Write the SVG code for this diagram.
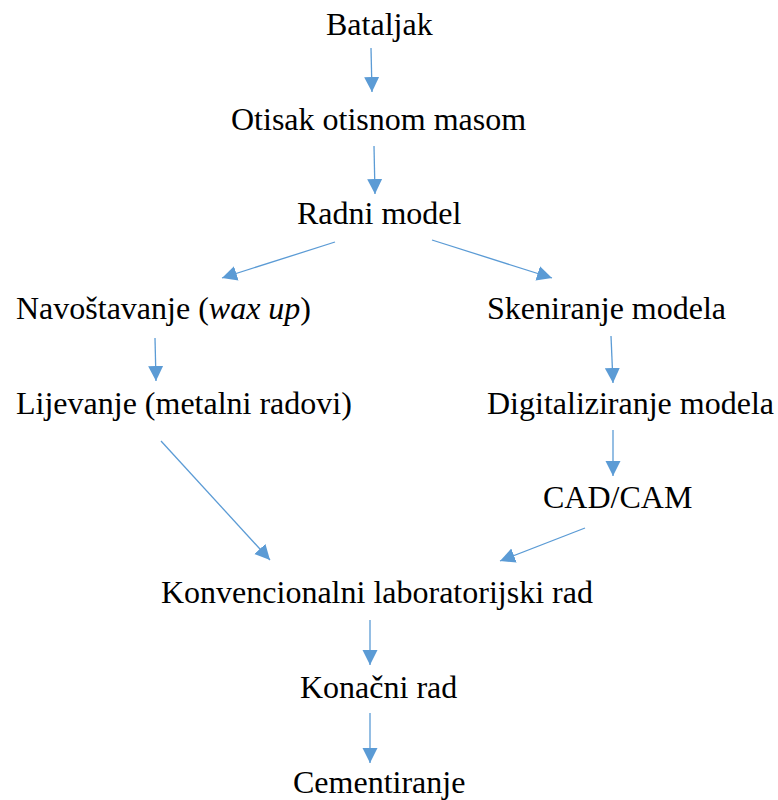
<svg xmlns="http://www.w3.org/2000/svg" width="778" height="800" viewBox="0 0 778 800">
<style>
text{font-family:"Liberation Serif","Times New Roman",serif;font-size:32px;fill:#000}
.c{stroke:#5B9BD5;stroke-width:1.3;fill:none;marker-end:url(#ah)}
</style>
<defs>
<marker id="ah" markerUnits="userSpaceOnUse" markerWidth="16" markerHeight="16" viewBox="0 0 16 16" refX="15" refY="8" orient="auto">
<path d="M0,0.5 L15,8 L0,15.5 Z" fill="#5B9BD5"/>
</marker>
</defs>
<rect width="778" height="800" fill="#fff"/>
<g id="connectors">
<line class="c" x1="371" y1="48" x2="372" y2="92"/>
<line class="c" x1="374" y1="146" x2="375" y2="194"/>
<line class="c" x1="335" y1="242" x2="222" y2="278"/>
<line class="c" x1="432" y1="240" x2="552" y2="278"/>
<line class="c" x1="155" y1="338" x2="156" y2="381"/>
<line class="c" x1="611" y1="336" x2="613" y2="383"/>
<line class="c" x1="613" y1="430" x2="613" y2="476"/>
<line class="c" x1="161" y1="441" x2="270" y2="560"/>
<line class="c" x1="585" y1="528" x2="500" y2="561"/>
<line class="c" x1="370" y1="620" x2="370" y2="665"/>
<line class="c" x1="370" y1="713" x2="370" y2="763"/>
</g>
<g id="bataljak"><text x="326" y="35">Bataljak</text></g>
<g id="otisak"><text x="231" y="130">Otisak otisnom masom</text></g>
<g id="radni"><text x="297" y="224">Radni model</text></g>
<g id="navostavanje"><text x="16" y="319">Navoštavanje (<tspan font-style="italic">wax up</tspan>)</text></g>
<g id="skeniranje"><text x="487" y="319">Skeniranje modela</text></g>
<g id="lijevanje"><text x="16" y="414">Lijevanje (metalni radovi)</text></g>
<g id="digitaliziranje"><text x="487" y="414">Digitaliziranje modela</text></g>
<g id="cadcam"><text x="543" y="508">CAD/CAM</text></g>
<g id="konvencionalni"><text x="161" y="603">Konvencionalni laboratorijski rad</text></g>
<g id="konacni"><text x="300" y="698">Konačni rad</text></g>
<g id="cementiranje"><text x="293" y="793">Cementiranje</text></g>
</svg>
